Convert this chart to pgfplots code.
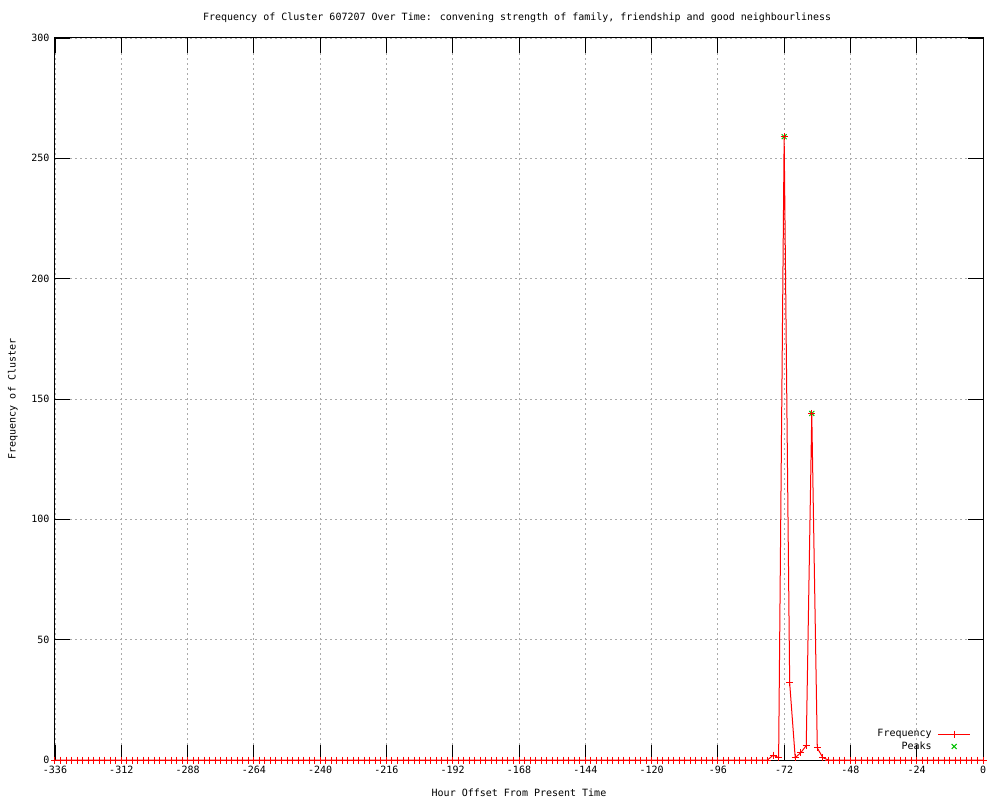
\documentclass[border=0pt]{standalone}
\usepackage{fontspec}
\setmainfont{DejaVu Sans Mono}
\usepackage{pgfplots}
\pgfplotsset{compat=1.18}
\definecolor{gpred}{RGB}{255,0,0}
\definecolor{gpgreen}{RGB}{0,192,0}
\definecolor{gpgrid}{RGB}{170,170,170}
\begin{document}
\fontsize{10}{12}\selectfont
\begin{tikzpicture}[x=1pt,y=1pt]
\path[use as bounding box] (-55,-40) rectangle (945,760);
\begin{axis}[
  at={(0,0)}, anchor=south west,
  scale only axis, width=928pt, height=722pt,
  xmin=-336, xmax=0, ymin=0, ymax=300,
  xtick={-336,-312,...,0},
  ytick={0,50,...,300},
  tick align=inside,
  major tick length=15pt,
  tick style={black, line width=0.8pt},
  axis line style={black, line width=1pt},
  grid=major,
  major grid style={gpgrid, line width=0.8pt, dash pattern=on 2pt off 3pt},
  /pgf/number format/assume math mode=true,
  tick label style={font=\fontsize{10}{12}\selectfont},
  xticklabel style={yshift=-3pt},
  yticklabel style={xshift=-2pt},
  clip=false,
  title={Frequency of Cluster 607207 Over Time: convening strength of family, friendship and good neighbourliness},
  every axis title/.style={at={(axis description cs:0.498,1.0277)}, anchor=center, font=\fontsize{10}{12}\selectfont},
  xlabel={Hour Offset From Present Time},
  every axis x label/.style={at={(axis description cs:0.5,-0.0457)}, anchor=center, font=\fontsize{10}{12}\selectfont},
  ylabel={Frequency of Cluster},
  every axis y label/.style={at={(axis description cs:-0.0453,0.5)}, rotate=90, anchor=center, font=\fontsize{10}{12}\selectfont},
  legend plot pos=right,
  legend cell align=right,
  reverse legend,
  legend style={draw=none, fill=none, at={(rel axis cs:0.988,0.008)}, anchor=south east,
    font=\fontsize{10}{12}\selectfont, row sep=-0.5pt, column sep=4pt, inner sep=1pt},
]
\addplot[gpgreen, only marks, mark=x, mark size=3.5pt, mark options={line width=1pt},
  legend image code/.code={\draw[gpgreen, line width=1pt] plot[mark=x, mark size=3.5pt] coordinates {(16pt,0pt)};}] coordinates {
(-72,259)(-62,144)
};
\addlegendentry{Peaks}
\addplot[gpred, line width=1pt, mark=+, mark size=3.5pt, mark options={line width=1pt},
  legend image code/.code={\draw[gpred, line width=1pt] (0pt,0pt) -- (32pt,0pt); \draw[gpred, line width=1pt] plot[mark=+, mark size=3.5pt] coordinates {(16pt,0pt)};}] coordinates {
(-336,0)(-334,0)(-332,0)(-330,0)(-328,0)(-326,0)(-324,0)(-322,0)(-320,0)(-318,0)
(-316,0)(-314,0)(-312,0)(-310,0)(-308,0)(-306,0)(-304,0)(-302,0)(-300,0)(-298,0)
(-296,0)(-294,0)(-292,0)(-290,0)(-288,0)(-286,0)(-284,0)(-282,0)(-280,0)(-278,0)
(-276,0)(-274,0)(-272,0)(-270,0)(-268,0)(-266,0)(-264,0)(-262,0)(-260,0)(-258,0)
(-256,0)(-254,0)(-252,0)(-250,0)(-248,0)(-246,0)(-244,0)(-242,0)(-240,0)(-238,0)
(-236,0)(-234,0)(-232,0)(-230,0)(-228,0)(-226,0)(-224,0)(-222,0)(-220,0)(-218,0)
(-216,0)(-214,0)(-212,0)(-210,0)(-208,0)(-206,0)(-204,0)(-202,0)(-200,0)(-198,0)
(-196,0)(-194,0)(-192,0)(-190,0)(-188,0)(-186,0)(-184,0)(-182,0)(-180,0)(-178,0)
(-176,0)(-174,0)(-172,0)(-170,0)(-168,0)(-166,0)(-164,0)(-162,0)(-160,0)(-158,0)
(-156,0)(-154,0)(-152,0)(-150,0)(-148,0)(-146,0)(-144,0)(-142,0)(-140,0)(-138,0)
(-136,0)(-134,0)(-132,0)(-130,0)(-128,0)(-126,0)(-124,0)(-122,0)(-120,0)(-118,0)
(-116,0)(-114,0)(-112,0)(-110,0)(-108,0)(-106,0)(-104,0)(-102,0)(-100,0)(-98,0)
(-96,0)(-94,0)(-92,0)(-90,0)(-88,0)(-86,0)(-84,0)(-82,0)(-80,0)(-78,0)
(-76,2)(-74,1)(-72,259)(-70,32)(-68,1)(-66,3)(-64,6)(-62,144)(-60,5)(-58,1)
(-56,0)(-54,0)(-52,0)(-50,0)(-48,0)(-46,0)(-44,0)(-42,0)(-40,0)(-38,0)
(-36,0)(-34,0)(-32,0)(-30,0)(-28,0)(-26,0)(-24,0)(-22,0)(-20,0)(-18,0)
(-16,0)(-14,0)(-12,0)(-10,0)(-8,0)(-6,0)(-4,0)(-2,0)(0,0)
};
\addlegendentry{Frequency}
\end{axis}
\end{tikzpicture}
\end{document}
